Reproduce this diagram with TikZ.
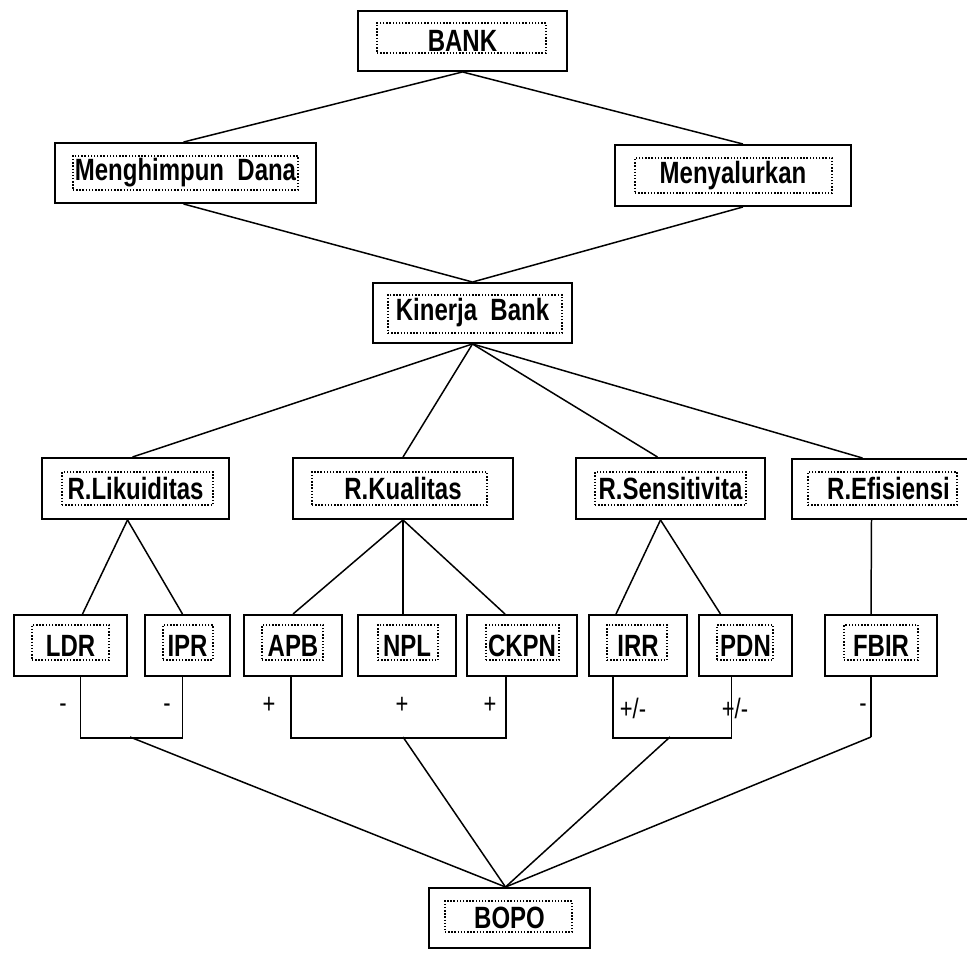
\documentclass[tikz,border=0pt]{standalone}
\usepackage{fontspec}
\setmainfont{Liberation Sans}[FakeStretch=0.78]
\usetikzlibrary{fit,calc}
\tikzset{
  box/.style={draw, line width=1.1pt, inner sep=0pt, fill=white},
  dbox/.style={draw, densely dotted, line width=0.8pt, inner sep=0pt},
  lbl/.style={font=\fontsize{17.5}{20}\selectfont\bfseries},
  sgn/.style={font=\fontsize{16}{18}\selectfont, inner sep=0pt},
  con/.style={line width=0.85pt},
}
\newcommand\mkbox[7]{%
  \node[box, fit={(#2,#3) (#4,#5)}, label={[lbl]center:#7}] (#1) {};
  \node[dbox, fit={#6}] (#1d) {};
}
\begin{document}
\begin{tikzpicture}[x=0.02cm, y=-0.02cm]
\useasboundingbox (0,0) rectangle (967,955);
\clip (0,0) rectangle (967,955);
% boxes
\mkbox{bank}{358}{11}{567}{71}{(377,23) (546,53)}{BANK}
\mkbox{mhd}{55}{143}{316}{203}{(73,156) (298,190)}{Menghimpun\ \ Dana}
\mkbox{mny}{615}{145}{851}{206}{(635,158) (832,193)}{Menyalurkan}
\mkbox{kin}{373}{283}{572}{343}{(388,295) (562,333)}{Kinerja\ \ Bank}
\mkbox{rl}{42}{458}{229}{519}{(62,472) (213,505)}{R.Likuiditas}
\mkbox{rk}{293}{458}{513}{519}{(312,472) (487,505)}{R.Kualitas}
\mkbox{rs}{576}{458}{765}{519}{(595,472) (746,505)}{R.Sensitivita}
\mkbox{re}{792}{459}{985}{519}{(808,472) (957,505)}{R.Efisiensi}
\mkbox{ldr}{14}{615}{127}{676}{(32,625) (109,660)}{LDR}
\mkbox{ipr}{145}{615}{230}{676}{(163,625) (213,660)}{IPR}
\mkbox{apb}{244}{615}{342}{676}{(262,625) (323,660)}{APB}
\mkbox{npl}{358}{615}{456}{676}{(378,625) (438,660)}{NPL}
\mkbox{ckpn}{467}{615}{577}{676}{(486,625) (559,660)}{CKPN}
\mkbox{irr}{589}{615}{687}{676}{(607,625) (667,660)}{IRR}
\mkbox{pdn}{699}{615}{792}{676}{(717,625) (773,660)}{PDN}
\mkbox{fbir}{825}{615}{937}{676}{(844,625) (918,660)}{FBIR}
\mkbox{bopo}{429}{888}{590}{948}{(445,901) (572,932)}{BOPO}
% upper connectors
\draw[con] (bank.south) -- ($(mhd.north)+(-2,0)$);
\draw[con] (bank.south) -- ($(mny.north)+(10,0)$);
\draw[con] ($(mhd.south)+(-2,0)$) -- (kin.north);
\draw[con] ($(mny.south)+(10,0)$) -- (kin.north);
\draw[con] (kin.south) -- ($(rl.north)+(-3,0)$);
\draw[con] (kin.south) -- (rk.north);
\draw[con] (kin.south) -- ($(rs.north)+(-13,0)$);
\draw[con] (kin.south) -- ($(re.north)+(-26,0)$);
\draw[con] ($(rl.south)+(-8,0)$) -- ($(ldr.north)+(12,0)$);
\draw[con] ($(rl.south)+(-8,0)$) -- ($(ipr.north)+(-5,0)$);
\draw[con] (rk.south) -- (apb.north);
\draw[con] (rk.south) -- ($(npl.north)+(-4,0)$);
\draw[con] (rk.south) -- ($(ckpn.north)+(-17,0)$);
\draw[con] ($(rs.south)+(-10,0)$) -- ($(irr.north)+(-22,0)$);
\draw[con] ($(rs.south)+(-10,0)$) -- ($(pdn.north)+(-25,0)$);
\draw[con] ($(re.south)+(-17,0)$) -- ($(fbir.north)+(-10,0)$);
% lower brackets
\coordinate (b1) at (130,737);
\coordinate (b2) at (403,737);
\coordinate (b3) at (670,737);
\coordinate (b4) at (871,737);
\draw[con] ($(ldr.south)+(10,0)$) |- ($(ipr.south)+(-5,61)$) -- ($(ipr.south)+(-5,0)$);
\draw[con] ($(apb.south)+(-2,0)$) |- ($(ckpn.south)+(-16,61)$) -- ($(ckpn.south)+(-16,0)$);
\draw[con] ($(irr.south)+(-25,0)$) |- ($(pdn.south)+(-14,61)$) -- ($(pdn.south)+(-14,0)$);
\draw[con] ($(fbir.south)+(-10,0)$) -- (b4);
\draw[con] (b1) -- ($(bopo.north)+(-4,0)$);
\draw[con] (b2) -- ($(bopo.north)+(-4,0)$);
\draw[con] (b3) -- ($(bopo.north)+(-4,0)$);
\draw[con] (b4) -- ($(bopo.north)+(-4,0)$);
% signs
\node[sgn] (s1) at (63,708) {-};
\node[sgn] (s2) at (167,708) {-};
\node[sgn] (s3) at (269,705) {+};
\node[sgn] (s4) at (402,705) {+};
\node[sgn] (s5) at (490,705) {+};
\node[sgn] (s6) at (633,708) {+/-};
\node[sgn] (s7) at (735,708) {+/-};
\node[sgn] (s8) at (863,708) {-};
\end{tikzpicture}
\end{document}
